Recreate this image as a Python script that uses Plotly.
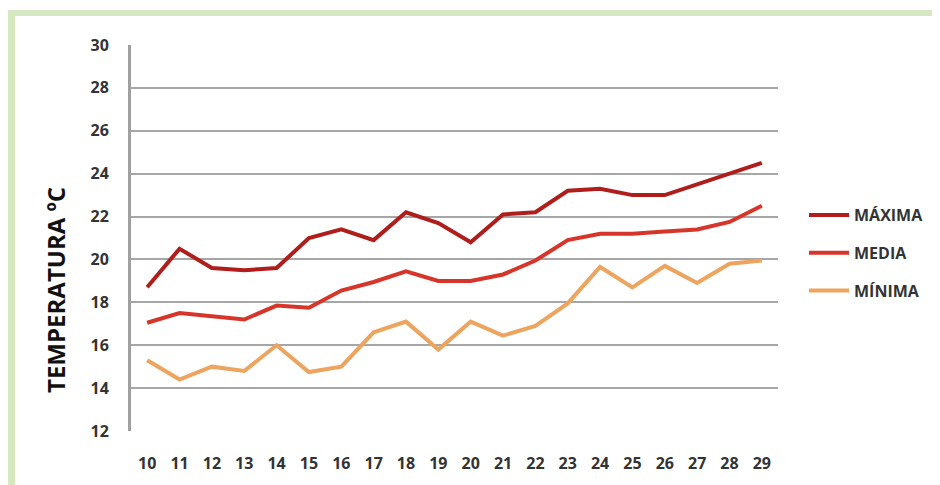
"""Temperaturas diarias: máxima, media y mínima."""
import plotly.graph_objects as go

dias = [str(d) for d in range(10, 30)]
maxima = [18.7, 20.5, 19.6, 19.5, 19.6, 21.0, 21.4, 20.9, 22.2, 21.7,
          20.8, 22.1, 22.2, 23.2, 23.3, 23.0, 23.0, 23.5, 24.0, 24.5]
media = [17.05, 17.5, 17.35, 17.2, 17.85, 17.75, 18.55, 18.95, 19.45, 19.0,
         19.0, 19.3, 19.95, 20.9, 21.2, 21.2, 21.3, 21.4, 21.75, 22.5]
minima = [15.3, 14.4, 15.0, 14.8, 16.0, 14.75, 15.0, 16.6, 17.1, 15.8,
          17.1, 16.45, 16.9, 17.95, 19.65, 18.7, 19.7, 18.9, 19.8, 19.95]

series = [("MÁXIMA", maxima, "#b01e1c"),
          ("MEDIA", media, "#d8352a"),
          ("MÍNIMA", minima, "#eda45e")]

FONT = "Open Sans"
OFF = 8  # page body margin, positions below are screen pixels
L, R, T, B = 131 - OFF, 778 - OFF, 45 - OFF, 431 - OFF
W, H = 940, 485


def px_x(p):
    return (p - OFF - L) / (R - L)


def px_y(p):
    return (B - (p - OFF)) / (B - T)


fig = go.Figure()
for name, vals, color in series:
    fig.add_trace(go.Scatter(x=dias, y=vals, name=name, mode="lines",
                             legendgroup=name,
                             line=dict(color=color, width=4)))

green = "#d5e8c2"
fig.add_shape(type="rect", xref="paper", yref="paper", layer="below",
              x0=px_x(8), x1=px_x(W + 10), y0=px_y(16), y1=px_y(10),
              fillcolor=green, line_width=0)
fig.add_shape(type="rect", xref="paper", yref="paper", layer="below",
              x0=px_x(8), x1=px_x(15), y0=px_y(H + 10), y1=px_y(10),
              fillcolor=green, line_width=0)

fig.add_annotation(text="<b>TEMPERATURA ºC</b>", textangle=-90,
                   xref="paper", yref="paper", x=px_x(55), y=px_y(290),
                   xanchor="center", yanchor="middle",
                   showarrow=False, font=dict(family=FONT, size=24, color="#111111"))

fig.update_layout(
    width=W, height=H,
    margin=dict(l=L, r=W - R, t=T, b=H - B),
    paper_bgcolor="white", plot_bgcolor="white",
    font=dict(family=FONT, color="#333333"),
    legend=dict(x=px_x(804), y=px_y(198), xanchor="left", yanchor="top",
                font=dict(family=FONT, size=16, color="#333333",
                          weight="bold"),
                tracegroupgap=14, itemwidth=40),
    xaxis=dict(type="category", range=[-0.5, 19.5], showgrid=False,
               showline=False, ticks="",
               tickfont=dict(size=16, weight="bold"),
               ticklabelstandoff=21),
    yaxis=dict(range=[12, 30], dtick=2, showgrid=True, gridcolor="#a6a6a6",
               gridwidth=2, showline=True, linecolor="#a0a0a0", linewidth=3,
               zeroline=False, ticks="",
               tickfont=dict(size=16, weight="bold"),
               ticklabelstandoff=16),
)

fig.write_html("out.html")
